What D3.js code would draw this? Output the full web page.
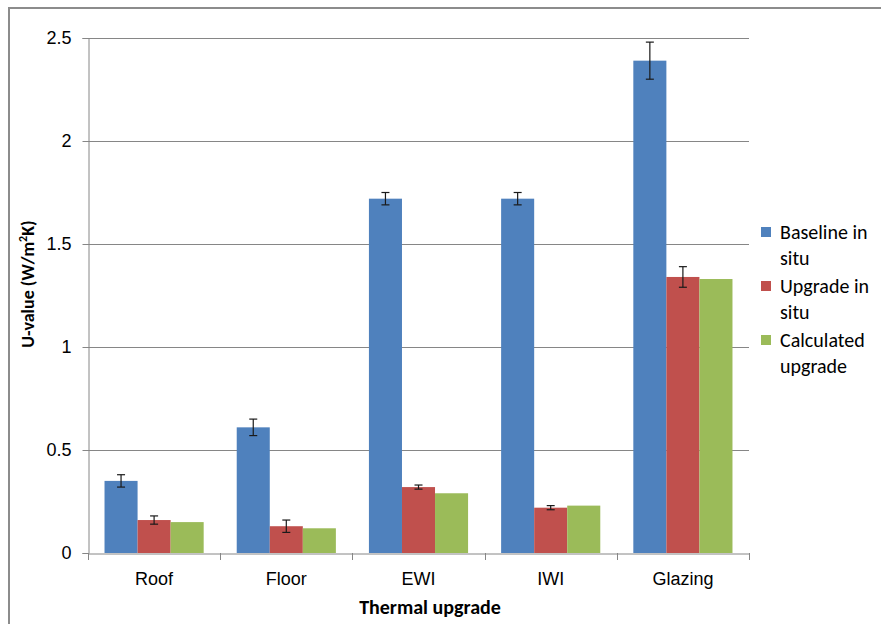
<!DOCTYPE html>
<html>
<head>
<meta charset="utf-8">
<script src="https://cdn.jsdelivr.net/npm/d3@7"></script>
<style>
  html, body { margin: 0; padding: 0; background: #fff; }
  svg { display: block; font-family: Carlito, Lato, "Open Sans", sans-serif; }
</style>
</head>
<body>
<svg id="chart" width="881" height="624"></svg>
<script>
// Thermal upgrade categories and measured / calculated U-values
const categories = ["Roof", "Floor", "EWI", "IWI", "Glazing"];
const seriesNames = ["Baseline in situ", "Upgrade in situ", "Calculated upgrade"];
const seriesColors = ["#4F81BD", "#C0504D", "#9BBB59"];
const baselineInSitu = [0.35, 0.61, 1.72, 1.72, 2.39];
const baselineError = [0.03, 0.04, 0.03, 0.03, 0.09];
const upgradeInSitu = [0.16, 0.13, 0.32, 0.22, 1.34];
const upgradeError = [0.02, 0.03, 0.01, 0.01, 0.05];
const calculatedUpgrade = [0.15, 0.12, 0.29, 0.23, 1.33];
const yTicks = [0, 0.5, 1, 1.5, 2, 2.5];

const seriesValues = [baselineInSitu, upgradeInSitu, calculatedUpgrade];
const seriesErrors = [baselineError, upgradeError, null];

const svg = d3.select("#chart");
const plot = { left: 88, right: 749, top: 38, bottom: 553 };

// outer frame (left and top edges visible)
svg.append("path")
  .attr("d", "M9,624 L9,8 L881,8")
  .attr("fill", "none").attr("stroke", "#8c8c8c").attr("stroke-width", 2);

const x = d3.scaleBand().domain(categories).range([plot.left, plot.right]).paddingInner(0).paddingOuter(0);
const inner = d3.scaleBand().domain(d3.range(3)).range([x.bandwidth() / 8, x.bandwidth() * 7 / 8]);
const y = d3.scaleLinear().domain([0, 2.5]).range([plot.bottom, plot.top]);

// gridlines
svg.append("g").selectAll("line").data(yTicks.filter(d => d > 0)).join("line")
  .attr("x1", plot.left).attr("x2", plot.right)
  .attr("y1", d => y(d) + 0.5).attr("y2", d => y(d) + 0.5)
  .attr("stroke", "#868686").attr("stroke-width", 1);

// y axis
const yAxis = svg.append("g").attr("transform", `translate(${plot.left + 0.5},0)`)
  .call(d3.axisLeft(y).tickValues(yTicks).tickFormat(d3.format("~g")).tickSizeOuter(0).tickSize(6).tickPadding(11));
yAxis.select(".domain").attr("stroke", "#868686");
yAxis.selectAll(".tick line").attr("stroke", "#868686");
yAxis.selectAll(".tick text").attr("font-size", 18).attr("fill", "#000");

// bars
const groups = svg.append("g").selectAll("g").data(categories).join("g")
  .attr("transform", d => `translate(${x(d)},0)`);

seriesValues.forEach((vals, s) => {
  groups.append("rect")
    .attr("x", (d, i) => inner(s))
    .attr("width", inner.bandwidth())
    .attr("y", (d, i) => y(vals[i]))
    .attr("height", (d, i) => y(0) - y(vals[i]))
    .attr("fill", seriesColors[s]);
});

// error bars
seriesErrors.forEach((errs, s) => {
  if (!errs) return;
  const vals = seriesValues[s];
  const cx = inner(s) + inner.bandwidth() / 2;
  const eb = groups.append("g").attr("stroke", "#1a1a1a").attr("stroke-width", 1.2);
  eb.append("line")
    .attr("x1", cx).attr("x2", cx)
    .attr("y1", (d, i) => y(vals[i] + errs[i])).attr("y2", (d, i) => y(vals[i] - errs[i]));
  eb.append("line")
    .attr("x1", cx - 4).attr("x2", cx + 4)
    .attr("y1", (d, i) => y(vals[i] + errs[i])).attr("y2", (d, i) => y(vals[i] + errs[i]));
  eb.append("line")
    .attr("x1", cx - 4).attr("x2", cx + 4)
    .attr("y1", (d, i) => y(vals[i] - errs[i])).attr("y2", (d, i) => y(vals[i] - errs[i]));
});

// x axis
const xAxis = svg.append("g").attr("transform", `translate(0,${plot.bottom + 0.5})`)
  .call(d3.axisBottom(x).tickSize(0).tickPadding(19).tickSizeOuter(0));
xAxis.select(".domain").attr("stroke", "#868686");
xAxis.selectAll(".tick text").attr("font-size", 18).attr("fill", "#000");
// category boundary ticks
svg.append("g").selectAll("line").data(categories.map(c => x(c)).concat([plot.right])).join("line")
  .attr("x1", d => Math.round(d) + 0.5).attr("x2", d => Math.round(d) + 0.5)
  .attr("y1", plot.bottom).attr("y2", plot.bottom + 7)
  .attr("stroke", "#868686");

// axis titles
svg.append("text")
  .attr("x", 430).attr("y", 614)
  .attr("text-anchor", "middle").attr("font-size", 20).attr("font-weight", "bold")
  .text("Thermal upgrade");

const yTitle = svg.append("text")
  .attr("transform", "translate(34,284) rotate(-90)")
  .attr("text-anchor", "middle").attr("font-size", 18).attr("font-weight", "bold");
yTitle.append("tspan").text("U-value (W/m");
yTitle.append("tspan").attr("baseline-shift", "super").attr("font-size", 12).text("2");
yTitle.append("tspan").text("K)");

// legend
const legendRows = [["Baseline in", "situ"], ["Upgrade in", "situ"], ["Calculated", "upgrade"]];
const legend = svg.append("g").attr("transform", "translate(761,0)");
legendRows.forEach((lines, s) => {
  const top = 227 + s * 54;
  legend.append("rect").attr("x", 0).attr("y", top).attr("width", 10).attr("height", 10)
    .attr("fill", seriesColors[s]);
  lines.forEach((t, k) => {
    legend.append("text").attr("x", 19).attr("y", top + 12 + k * 26)
      .attr("font-size", 20).attr("fill", "#000").text(t);
  });
});
</script>
</body>
</html>
